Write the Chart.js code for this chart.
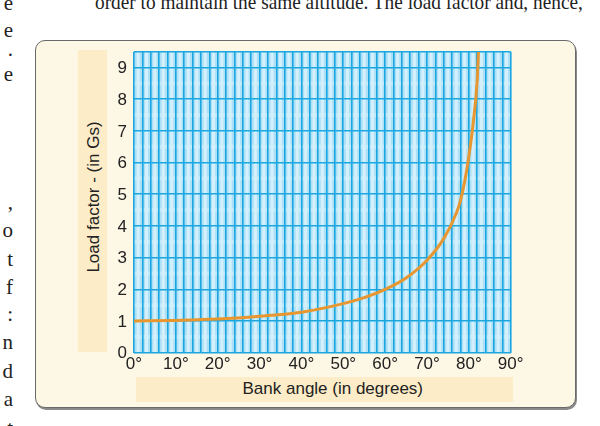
<!DOCTYPE html>
<html>
<head>
<meta charset="utf-8">
<script src="https://cdn.jsdelivr.net/npm/chart.js@4.4.1/dist/chart.umd.min.js"></script>
<style>
  html, body { margin: 0; padding: 0; background: #fff; }
  body { width: 600px; height: 426px; position: relative; overflow: hidden; }
  .serif { position: absolute; font-family: "Liberation Serif", "DejaVu Serif", serif; font-size: 21px; color: #222; line-height: 1; white-space: nowrap; }
  #topline { left: 95px; top: -8px; transform-origin: 0 0; }
  .margin { right: 587px; }
  #box { position: absolute; left: 35px; top: 40px; width: 539px; height: 366px; background: #fdf7e5;
         border: 1.5px solid #6a6a6a; border-radius: 10px; box-shadow: 1px 2px 0 #8a8a8a; }
  .strip { position: absolute; background: #fcecc8; }
  .axtitle { position: absolute; font-family: "Liberation Sans", Arial, sans-serif; font-size: 17px; color: #222; white-space: nowrap; }
  #chartWrap { position: absolute; left: 0; top: 0; width: 600px; height: 426px; }
</style>
</head>
<body>
<div class="serif" id="topline">order to maintain the same altitude. The load factor and, hence,</div>
<div id="marginText"></div>

<div id="box"></div>
<div class="strip" style="left:78px; top:50px; width:29px; height:302px;"></div>
<div class="strip" style="left:136px; top:377px; width:377px; height:25px;"></div>
<div class="axtitle" id="ytitle">Load factor - (in Gs)</div>
<div class="axtitle" id="xtitle">Bank angle (in degrees)</div>

<div id="chartWrap"><canvas id="chart" width="600" height="426"></canvas></div>

<script>
// values
const bankAngles = [0, 10, 20, 30, 40, 50, 55, 60, 65, 70, 74, 77, 78, 79, 80, 81, 82, 82.3];
const loadFactors = [1.0, 1.02, 1.06, 1.15, 1.28, 1.55, 1.74, 2.0, 2.36, 2.92, 3.6, 4.4, 4.8, 5.4, 6.2, 7.2, 8.6, 9.5];
const yTickLabels = ['0', '1', '2', '3', '4', '5', '6', '7', '8', '9'];
const xMin = 0, xMax = 90, xStep = 1;
const yMin = 0, yMax = 9.5, yStep = 0.5;

// scraps of the surrounding book page
const marginLetters = ['e', 'e', '.', 'e', ',', 'o', 't', 'f', ':', 'n', 'd', 'a', 't'];
const marginBaselines = [11, 38, 57, 82, 210, 238, 267, 295, 322, 350, 379, 407, 436];

const marginDiv = document.getElementById('marginText');
marginLetters.forEach((ch, i) => {
  const d = document.createElement('div');
  d.className = 'serif margin';
  d.textContent = ch;
  d.style.top = (marginBaselines[i] - 18.5) + 'px';
  marginDiv.appendChild(d);
});

// squeeze the cut-off top line to the width it has in the scan
const topLine = document.getElementById('topline');
topLine.style.transform = 'scaleX(' + (488 / topLine.offsetWidth) + ')';

const yt = document.getElementById('ytitle');
yt.style.left = (93 - yt.offsetWidth / 2) + 'px';
yt.style.top = (197 - yt.offsetHeight / 2) + 'px';
yt.style.transform = 'rotate(-90deg)';
const xt = document.getElementById('xtitle');
xt.style.left = (333 - xt.offsetWidth / 2) + 'px';
xt.style.top = (389 - xt.offsetHeight / 2) + 'px';

const lineBlue = '#1aa6e0';
const tickFont = '17px "Liberation Sans", Arial, sans-serif';

// graph-paper fill under the grid
const paper = {
  id: 'paper',
  beforeDraw(chart) {
    const { ctx, chartArea: a, scales } = chart;
    ctx.save();
    ctx.fillStyle = '#ade0f6';
    ctx.fillRect(a.left, a.top, a.right - a.left, a.bottom - a.top);
    ctx.fillStyle = '#d3f0fc';
    for (let v = xMin + 1; v < xMax; v += 2) {
      const px = scales.x.getPixelForValue(v);
      ctx.fillRect(px - 1.5, a.top, 3, a.bottom - a.top);
    }
    ctx.globalAlpha = 0.6;
    for (let v = yMin + 0.5; v < yMax; v += 1) {
      const py = scales.y.getPixelForValue(v);
      ctx.fillRect(a.left, py - 2, a.right - a.left, 4);
    }
    ctx.restore();
  },
  // y labels drawn upright next to the axis
  afterDraw(chart) {
    const { ctx, chartArea: a, scales } = chart;
    ctx.save();
    ctx.font = tickFont;
    ctx.fillStyle = '#222';
    ctx.textAlign = 'right';
    ctx.textBaseline = 'middle';
    yTickLabels.forEach(t => {
      ctx.fillText(t, a.left - 7, scales.y.getPixelForValue(Number(t)) + 1);
    });
    ctx.restore();
  }
};

new Chart(document.getElementById('chart'), {
  type: 'line',
  data: {
    datasets: [{
      data: bankAngles.map((a, i) => ({ x: a, y: loadFactors[i] })),
      borderColor: '#e8962f',
      borderWidth: 3,
      pointRadius: 0,
      cubicInterpolationMode: 'monotone',
      fill: false
    }]
  },
  options: {
    responsive: false,
    animation: false,
    layout: { padding: { top: 51.7, right: 89.3, left: 0, bottom: 0 } },
    plugins: { legend: { display: false }, tooltip: { enabled: false } },
    scales: {
      x: {
        type: 'linear', min: xMin, max: xMax,
        afterFit(scale) { scale.height = 73.3; },
        border: { display: false },
        grid: {
          drawTicks: false,
          color: c => (c.tick.value % 2 === 0 ? lineBlue : 'rgba(0,0,0,0)'),
          lineWidth: 1.6
        },
        ticks: {
          stepSize: xStep, autoSkip: false, minRotation: 0, maxRotation: 0, padding: 1,
          color: '#222', font: { family: 'Liberation Sans', size: 17 },
          callback: v => (v % 10 === 0 ? v + '°' : '')
        }
      },
      y: {
        type: 'linear', min: yMin, max: yMax,
        afterFit(scale) { scale.width = 134; },
        border: { display: false },
        grid: {
          drawTicks: false,
          color: c => (Number.isInteger(c.tick.value) || c.tick.value === yMax ? lineBlue : 'rgba(0,0,0,0)'),
          lineWidth: 1.6
        },
        ticks: { stepSize: yStep, display: false }
      }
    }
  },
  plugins: [paper]
});
</script>
</body>
</html>
